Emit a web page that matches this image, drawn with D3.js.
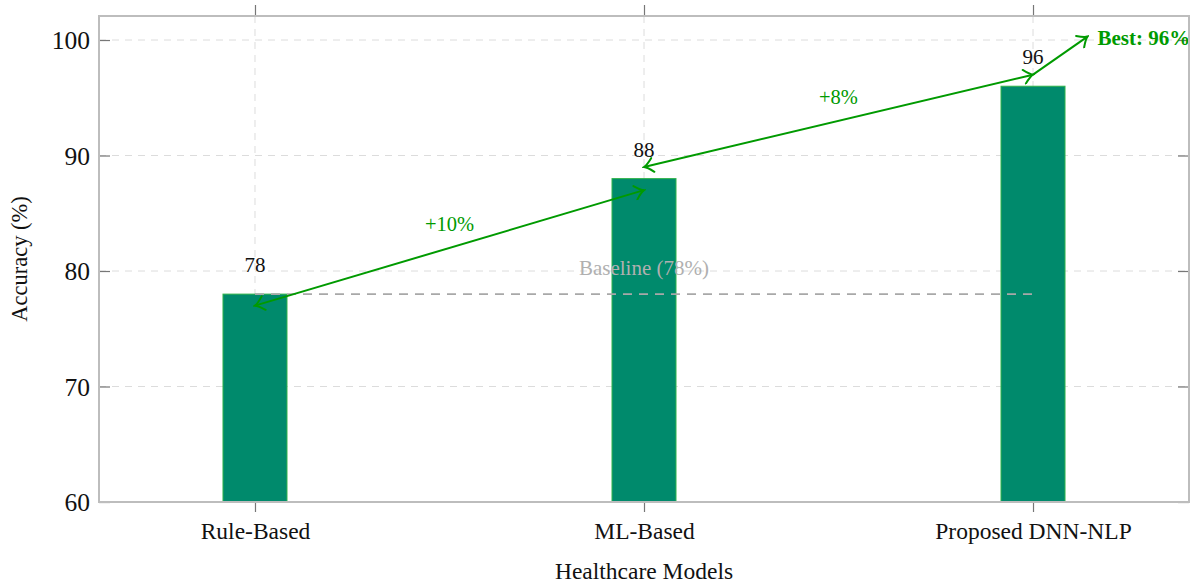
<!DOCTYPE html>
<html>
<head>
<meta charset="utf-8">
<script src="https://cdn.jsdelivr.net/npm/d3@7"></script>
<style>
  body { margin: 0; background: #fff; }
  text { font-family: "Liberation Serif", "DejaVu Serif", serif; }
</style>
</head>
<body>
<div id="chart"></div>
<script>
// data
var categories = ["Rule-Based", "ML-Based", "Proposed DNN-NLP"];
var accuracy = [78, 88, 96];
var yTicks = [60, 70, 80, 90, 100];
var baselineValue = 78;
// improvement arrows: [fromIndex, fromValue, toIndex, toValue, label]
var gainArrows = [
    [0, 77, 1, 87, "+10%"],
    [1, 89, 2, 97, "+8%"]
];
var bestArrow = [2, 97, 2.14, 100.3];
var bestLabel = "Best: 96%";

var svgWidth = 1193;
var svgHeight = 583;
var margin = { top: 16, right: 4, bottom: 81, left: 99 };
var width = svgWidth - margin.left - margin.right;
var height = svgHeight - margin.top - margin.bottom;

var green = "#009a00";

var svg = d3.select("#chart")
  .append("svg")
    .attr("width", svgWidth)
    .attr("height", svgHeight);

var defs = svg.append("defs");
function addMarker(id, orient) {
    defs.append("marker")
        .attr("id", id)
        .attr("viewBox", "-12 -8 14 16")
        .attr("refX", 0)
        .attr("refY", 0)
        .attr("markerWidth", 14)
        .attr("markerHeight", 16)
        .attr("markerUnits", "userSpaceOnUse")
        .attr("orient", orient)
      .append("path")
        .attr("d", "M-9,-7 Q-3,-1 0,0 Q-3,1 -9,7")
        .attr("fill", "none")
        .attr("stroke", green)
        .attr("stroke-width", 2)
        .attr("stroke-linecap", "round");
}
addMarker("head", "auto");
addMarker("tail", "auto-start-reverse");

var chart = svg.append("g")
    .attr("transform", `translate(${margin.left}, ${margin.top})`);

var xScale = d3.scalePoint()
    .domain(categories)
    .range([0, width])
    .padding(0.401);

var step = xScale.step();
function xPos(i) {
    return xScale(categories[0]) + i * step;
}

var yScale = d3.scaleLinear()
    .domain([60, 102.08])
    .range([height, 0]);

// grid
chart.append("g")
  .selectAll("line")
  .data(yTicks)
  .enter()
  .append("line")
    .attr("x1", 0)
    .attr("x2", width)
    .attr("y1", d => yScale(d))
    .attr("y2", d => yScale(d))
    .attr("stroke", "#dcdcdc")
    .attr("stroke-width", 1)
    .attr("stroke-dasharray", "7,6");

chart.append("g")
  .selectAll("line")
  .data(categories)
  .enter()
  .append("line")
    .attr("x1", d => xScale(d))
    .attr("x2", d => xScale(d))
    .attr("y1", 0)
    .attr("y2", height)
    .attr("stroke", "#dcdcdc")
    .attr("stroke-width", 1)
    .attr("stroke-dasharray", "7,6");

// axes
var bottomAxis = d3.axisBottom(xScale).tickSize(10).tickPadding(10);
var topAxis = d3.axisTop(xScale).tickSize(11).tickFormat("");
var leftAxis = d3.axisLeft(yScale).tickValues(yTicks).tickSize(-11).tickPadding(10);
var rightAxis = d3.axisRight(yScale).tickValues(yTicks).tickSize(-11).tickFormat("");

var xAxisG = chart.append("g")
    .attr("transform", `translate(0, ${height})`)
    .call(bottomAxis);
var topAxisG = chart.append("g").call(topAxis);
var yAxisG = chart.append("g").call(leftAxis);
var rightAxisG = chart.append("g")
    .attr("transform", `translate(${width}, 0)`)
    .call(rightAxis);

[xAxisG, topAxisG, yAxisG, rightAxisG].forEach(function(g) {
    g.select(".domain").remove();
    g.selectAll(".tick line").attr("stroke", "#777").attr("stroke-width", 1.2);
});

xAxisG.selectAll("text")
    .attr("font-size", "23.5px")
    .attr("fill", "#111");
yAxisG.selectAll("text")
    .attr("font-size", "25.5px")
    .attr("dy", "0.34em")
    .attr("fill", "#111");
// keep labels just left of the frame
yAxisG.selectAll("text").attr("x", -9);

// bars
chart.selectAll(".bar")
    .data(accuracy)
    .enter()
    .append("rect")
    .attr("class", "bar")
    .attr("x", (d, i) => xPos(i) - 32)
    .attr("width", 64)
    .attr("y", d => yScale(d))
    .attr("height", d => height - yScale(d))
    .attr("fill", "#008a6c")
    .attr("stroke", "#2fb34a")
    .attr("stroke-width", 1);

// baseline
chart.append("line")
    .attr("x1", xPos(0))
    .attr("x2", xPos(2))
    .attr("y1", yScale(baselineValue))
    .attr("y2", yScale(baselineValue))
    .attr("stroke", "#a8a8a8")
    .attr("stroke-width", 1.8)
    .attr("stroke-dasharray", "9,7");

chart.append("text")
    .attr("x", xPos(1))
    .attr("y", yScale(baselineValue) - 19)
    .attr("text-anchor", "middle")
    .attr("font-size", "21px")
    .attr("fill", "#b0b0b0")
    .text("Baseline (78%)");

// value labels
chart.selectAll(".valueText")
    .data(accuracy)
    .enter()
    .append("text")
    .attr("class", "valueText")
    .attr("x", (d, i) => xPos(i))
    .attr("y", d => yScale(d) - 22)
    .attr("text-anchor", "middle")
    .attr("font-size", "21px")
    .attr("fill", "#111")
    .text(d => d);

// gain arrows
gainArrows.forEach(function(a) {
    var x1 = xPos(a[0]), y1 = yScale(a[1]);
    var x2 = xPos(a[2]), y2 = yScale(a[3]);
    chart.append("line")
        .attr("x1", x1).attr("y1", y1)
        .attr("x2", x2).attr("y2", y2)
        .attr("stroke", green)
        .attr("stroke-width", 2)
        .attr("marker-start", "url(#tail)")
        .attr("marker-end", "url(#head)");
    chart.append("text")
        .attr("x", (x1 + x2) / 2)
        .attr("y", (y1 + y2) / 2 - 17)
        .attr("text-anchor", "middle")
        .attr("font-size", "20.5px")
        .attr("fill", green)
        .text(a[4]);
});

// best arrow
chart.append("line")
    .attr("x1", xPos(bestArrow[0])).attr("y1", yScale(bestArrow[1]))
    .attr("x2", xPos(bestArrow[2])).attr("y2", yScale(bestArrow[3]))
    .attr("stroke", green)
    .attr("stroke-width", 2)
    .attr("marker-end", "url(#head)");

chart.append("text")
    .attr("x", xPos(bestArrow[2]) + 10)
    .attr("y", yScale(bestArrow[3]) + 8)
    .attr("font-size", "21px")
    .attr("font-weight", "bold")
    .attr("fill", green)
    .text(bestLabel);

// frame
chart.append("rect")
    .attr("x", 0)
    .attr("y", 0)
    .attr("width", width)
    .attr("height", height)
    .attr("fill", "none")
    .attr("stroke", "#bdbdbd")
    .attr("stroke-width", 2);

// axis titles
chart.append("text")
    .attr("x", width / 2)
    .attr("y", height + 77)
    .attr("text-anchor", "middle")
    .attr("font-size", "23.5px")
    .attr("fill", "#111")
    .text("Healthcare Models");

chart.append("text")
    .attr("transform", "rotate(-90)")
    .attr("x", -height / 2)
    .attr("y", -72)
    .attr("text-anchor", "middle")
    .attr("font-size", "22.5px")
    .attr("fill", "#111")
    .text("Accuracy (%)");
</script>
</body>
</html>
